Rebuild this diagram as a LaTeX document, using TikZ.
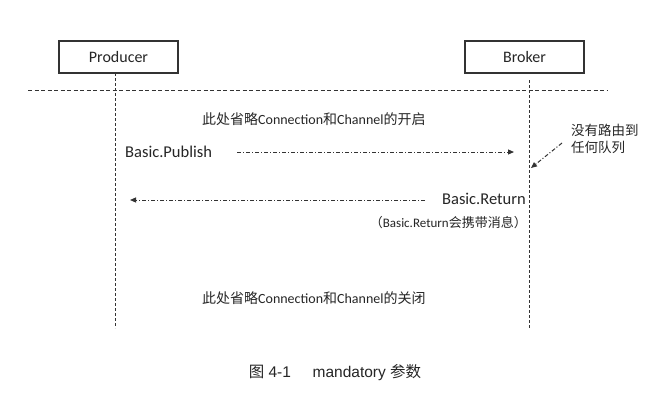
\documentclass[tikz,border=0pt]{standalone}
\usepackage{fontspec}
\setmainfont{Carlito}
\newfontfamily\cjk{Noto Sans CJK SC}
\newfontfamily\capfont{Liberation Sans}
\usetikzlibrary{arrows.meta}
\newcommand{\zh}[1]{{\cjk #1}}
\begin{document}
\begin{tikzpicture}[x=1pt,y=-1pt,
  ink/.style={draw=black!80},
  actor/.style={ink, line width=1.2pt, minimum width=119pt, minimum height=32pt, inner sep=0pt, font=\fontsize{16}{18}\selectfont, text=black!85},
  lifeline/.style={ink, line width=1pt, dash pattern=on 3pt off 2pt},
  sepline/.style={ink, line width=1pt, dash pattern=on 4pt off 2.5pt},
  msg/.style={ink, line width=1pt, dash pattern=on 4pt off 2pt on 1pt off 2pt, -{Triangle[length=6pt,width=5pt]}},
  lbl/.style={inner sep=0pt, text=black!85, font=\fontsize{16.5}{19}\selectfont},
  zhlbl/.style={inner sep=0pt, text=black!85, font=\fontsize{14}{16}\selectfont},
]
\useasboundingbox (0,0) rectangle (670,415);
\fill[white] (0,0) rectangle (670,415);

% actors
\node[actor] (prod) at (118.5,57) {Producer};
\node[actor] (brok) at (524.5,57) {Broker};

% lifelines
\coordinate (ptop) at (115,73);
\coordinate (pbot) at (115,328);
\coordinate (btop) at (529,80);
\coordinate (bbot) at (529,328);
\draw[lifeline] (ptop) -- (pbot);
\draw[lifeline] (btop) -- (bbot);

% separator
\coordinate (sl) at (28,90);
\coordinate (sr) at (608,90);
\draw[sepline] (sl) -- (sr);

% open note
\node[zhlbl, anchor=west] (open) at (202,119) {\zh{此处省略}Connection\zh{和}Channel\zh{的开启}};

% publish
\node[lbl, anchor=west] (pub) at (125,152) {Basic.Publish};
\coordinate (pubs) at (237,152);
\coordinate (pube) at (514,152);
\draw[msg] (pubs) -- (pube);

% note
\node[inner sep=0pt, anchor=north west, align=left, text=black!85,
      font=\fontsize{13.5}{17}\selectfont\cjk] (note) at (571,124) {没有路由到\\任何队列};
\coordinate (ns) at (562,143);
\coordinate (ne) at (531,168);
\draw[msg] (ns) -- (ne);

% return
\node[lbl, anchor=east] (ret) at (526,199) {Basic.Return};
\coordinate (rs) at (425,200);
\coordinate (re) at (130,200);
\draw[msg] (rs) -- (re);
\node[inner sep=0pt, anchor=east, text=black!85, font=\fontsize{13}{15}\selectfont] (retnote) at (527,223)
  {\zh{（}Basic.Return\zh{会携带消息）}};

% close note
\node[zhlbl, anchor=west] (close) at (202,298) {\zh{此处省略}Connection\zh{和}Channel\zh{的关闭}};

% caption
\node[inner sep=0pt, text=black!85, font=\fontsize{15.5}{18}\selectfont\capfont] (cap) at (335,373)
  {\cjk 图\capfont{} 4-1\hspace{1.4em}mandatory \cjk 参数};
\end{tikzpicture}
\end{document}
